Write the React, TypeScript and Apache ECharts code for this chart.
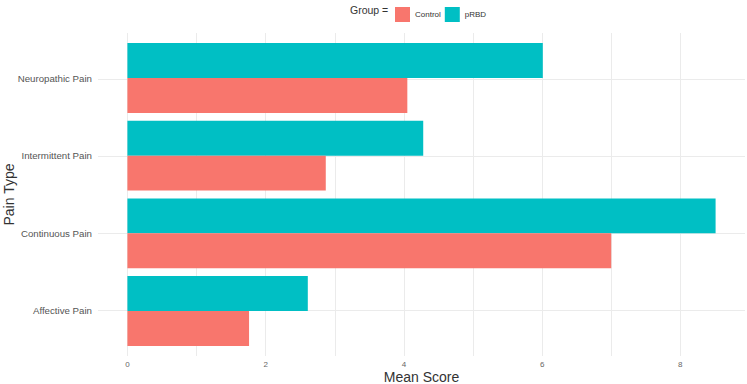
import React, { useEffect, useRef } from "react";
import * as echarts from "echarts";

// Pain types, bottom to top
const categories = ["Affective Pain", "Continuous Pain", "Intermittent Pain", "Neuropathic Pain"];
const controlScores = [1.76, 7.0, 2.87, 4.05];
const prbdScores = [2.61, 8.51, 4.28, 6.01];
const xTicks = [0, 2, 4, 6, 8];
const xGridValues = [0, 1, 2, 3, 4, 5, 6, 7, 8];

const FONT = "Liberation Sans";
const CONTROL_COLOR = "#F8766D";
const PRBD_COLOR = "#00BFC4";
const GRID_COLOR = "#EBEBEB";

export default function App() {
  const ref = useRef<HTMLDivElement>(null);

  useEffect(() => {
    document.body.style.margin = "0";
    if (!ref.current) return;
    const chart = echarts.init(ref.current, undefined, { renderer: "svg" });

    // x range with 5% padding on both sides of [0, max]
    const dataMax = Math.max(...controlScores, ...prbdScores);
    const pad = dataMax * 0.05;
    const xMin = -pad;
    const xMax = dataMax + pad;

    // panel bounds; discrete axis padded by 0.6 of a band on each side
    const panelTop = 33;
    const panelBottomMargin = 28;
    const left = 98;
    const right = 2;
    const height = 384;
    const panelH = height - panelTop - panelBottomMargin;
    const unit = panelH / (categories.length + 1.2);
    const barTop = panelTop + unit * 0.1;
    const barBottom = panelBottomMargin + unit * 0.1;

    chart.setOption({
      animation: false,
      textStyle: { fontFamily: FONT },
      legend: {
        data: ["Control", "pRBD"],
        left: 390,
        top: 2,
        icon: "rect",
        itemWidth: 15,
        itemHeight: 15,
        itemGap: 4,
        textStyle: { fontSize: 8, color: "#333", fontFamily: FONT, padding: [0, 0, 0, 0] },
      },
      graphic: [
        {
          type: "text",
          left: 350,
          top: 4,
          style: { text: "Group =", fontSize: 10.5, fill: "#333", fontFamily: FONT },
        },
      ],
      grid: [
        { left, right, top: barTop, bottom: barBottom, outerBoundsMode: "none" },
        { left, right, top: panelTop, bottom: panelBottomMargin, outerBoundsMode: "none" },
      ],
      xAxis: [
        {
          gridIndex: 0,
          type: "value",
          min: xMin,
          max: xMax,
          show: false,
          splitLine: { show: false },
        },
        {
          gridIndex: 1,
          type: "value",
          min: xMin,
          max: xMax,
          axisLine: { show: false },
          axisTick: { show: false },
          splitLine: { show: false },
          axisLabel: {
            customValues: xTicks,
            fontSize: 8,
            color: "#666",
            margin: 4,
            fontFamily: FONT,
          },
          name: "Mean Score",
          nameLocation: "middle",
          nameGap: 14,
          nameMoveOverlap: false,
          nameTextStyle: { fontSize: 14, color: "#333", fontFamily: FONT },
        },
      ],
      yAxis: [
        {
          gridIndex: 0,
          type: "category",
          data: categories,
          axisLine: { show: false },
          axisTick: { show: false },
          splitLine: { show: false },
          axisLabel: { fontSize: 9.7, color: "#555", margin: 6, fontFamily: FONT },
          name: "Pain Type",
          nameLocation: "middle",
          nameGap: 82,
          nameRotate: 90,
          nameMoveOverlap: false,
          nameTextStyle: { fontSize: 14, color: "#333", fontFamily: FONT },
        },
        {
          gridIndex: 1,
          type: "value",
          min: 0.4,
          max: categories.length + 0.6,
          show: false,
          splitLine: { show: false },
        },
      ],
      series: [
        {
          name: "gridlines",
          type: "scatter",
          xAxisIndex: 1,
          yAxisIndex: 1,
          data: [],
          z: 0,
          silent: true,
          markLine: {
            silent: true,
            z: 0,
            symbol: ["none", "none"],
            label: { show: false },
            lineStyle: { color: GRID_COLOR, width: 1, type: "solid" },
            emphasis: { disabled: true },
            data: [
              ...xGridValues.map((v) => ({ xAxis: v })),
              ...categories.map((_, i) => ({ yAxis: i + 1 })),
            ],
          },
        },
        // horizontal bars stack their series from the top of each band,
        // so pRBD goes first to sit above Control
        {
          name: "pRBD",
          type: "bar",
          xAxisIndex: 0,
          yAxisIndex: 0,
          data: prbdScores,
          itemStyle: { color: PRBD_COLOR },
          barCategoryGap: "10%",
          barGap: "0%",
          z: 10,
        },
        {
          name: "Control",
          type: "bar",
          xAxisIndex: 0,
          yAxisIndex: 0,
          data: controlScores,
          itemStyle: { color: CONTROL_COLOR },
          barCategoryGap: "10%",
          barGap: "0%",
          z: 10,
        },
      ],
    });

    return () => chart.dispose();
  }, []);

  return <div ref={ref} style={{ width: 747, height: 384 }} />;
}
